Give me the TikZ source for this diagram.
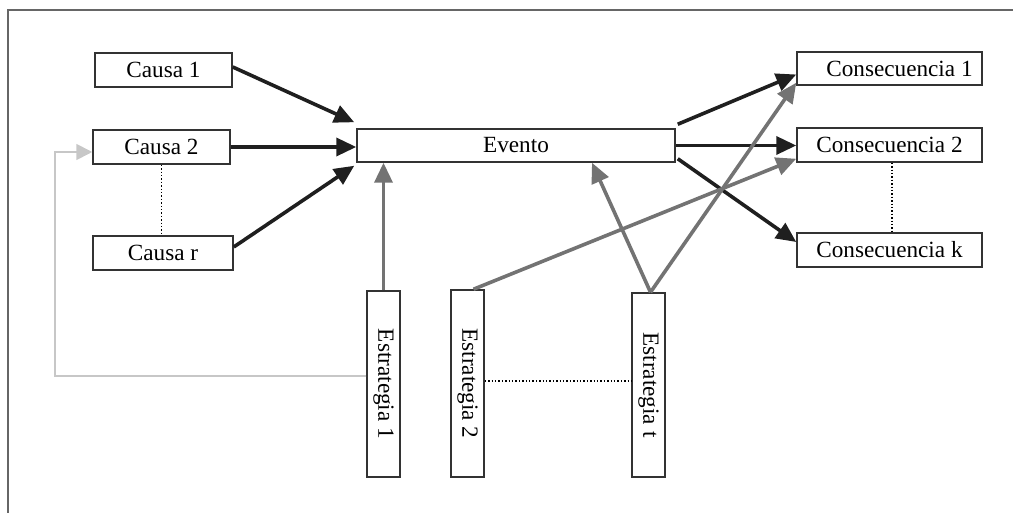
\documentclass[tikz,border=0pt]{standalone}
\usepackage{fontspec}
\setmainfont{Liberation Serif}
\usetikzlibrary{arrows.meta}
\begin{document}
\begin{tikzpicture}[x=0.5pt,y=-0.5pt,
  box/.style={draw=black!80,line width=0.75pt,inner sep=0pt,font=\fontsize{11.6}{13}\selectfont},
  hbox/.style={box,minimum height=17pt},
  vbox/.style={box,minimum width=16.5pt,minimum height=93pt},
  blk/.style={draw=black!88,line width=1.8pt,-{Triangle[length=10pt,width=9pt]}},
  gry/.style={draw=black!55,line width=1.8pt,-{Triangle[length=10pt,width=9pt]}},
  lgt/.style={draw=black!22,line width=0.9pt,-{Triangle[length=8pt,width=8pt]}},
  dots/.style={draw=black,line width=0.7pt,densely dotted}]
\useasboundingbox (0,0) rectangle (1013,513);
\draw[black!60,line width=1pt] (8,513) -- (8,10) -- (1013,10);
% nodes
\node[hbox,minimum width=68.5pt] (c1) at (163.5,70) {Causa 1};
\node[hbox,minimum width=68.5pt] (c2) at (161.5,147) {Causa 2};
\node[hbox,minimum width=70pt] (cr) at (163,253) {Causa r};
\node[box,minimum width=159pt,minimum height=16.5pt] (ev) at (516,145.5) {Evento};
\node[box,minimum width=92.5pt,minimum height=16.5pt] (q1) at (889.5,68.5) {\hspace*{10pt}Consecuencia 1};
\node[hbox,minimum width=92.5pt] (q2) at (889.5,145) {Consecuencia 2};
\node[hbox,minimum width=92.5pt] (qk) at (889.5,250) {Consecuencia k};
\node[vbox] (e1) at (383.5,384) {\rotatebox{-90}{Estrategia 1}};
\node[vbox,minimum height=93.5pt] (e2) at (467.5,383.5) {\rotatebox{-90}{Estrategia 2}};
\node[vbox,minimum height=92pt] (et) at (648.5,385) {\rotatebox{-90}{Estrategia t}};
% dotted
\draw[dots] (c2.south) -- (c2.south |- cr.north);
\draw[dots] ([xshift=1.2pt]q2.south) -- ([xshift=1.2pt]qk.north);
\draw[dots] ([yshift=1.2pt]e2.east) -- ([yshift=1.2pt]e2.east -| et.west);
% black arrows
\draw[blk] ([yshift=1.5pt]c1.east) -- ([xshift=-1pt,yshift=3pt]ev.north west);
\draw[blk] (c2.east) -- (c2.east -| ev.west);
\draw[blk] ([yshift=3pt]cr.east) -- ([xshift=-1pt,yshift=-1.5pt]ev.south west);
\draw[blk] ([xshift=1pt,yshift=2pt]ev.north east) -- ([yshift=-3pt]q1.west);
\draw[blk] (ev.east) -- (ev.east -| q2.west);
\draw[blk] ([xshift=1pt,yshift=2pt]ev.south east) -- ([yshift=4pt]qk.west);
% gray arrows
\draw[gry] (e1.north) -- (e1.north |- ev.south);
\draw[gry] ([xshift=3pt]e2.north) -- ([yshift=2pt]q2.south west);
\draw[gry] ([xshift=1pt]et.north) -- ([xshift=38pt]ev.south);
\draw[gry] ([xshift=1pt]et.north) -- ([yshift=1.5pt]q1.south west);
% light feedback
\coordinate (fb1) at (55,376);
\coordinate (fb2) at (55,152);
\draw[lgt] ([yshift=4pt]e1.west) -- (fb1) -- (fb2) -- (fb2 -| c2.west);
\end{tikzpicture}
\end{document}
